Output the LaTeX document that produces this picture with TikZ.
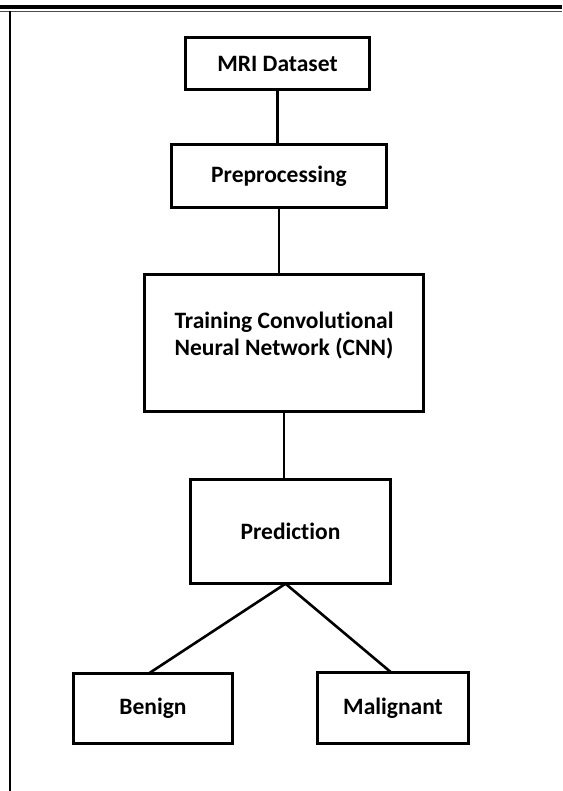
\documentclass[tikz,border=0pt]{standalone}
\usepackage{fontspec}
\setmainfont{Carlito}[Ligatures=NoCommon]
\usetikzlibrary{positioning}

\begin{document}
\begin{tikzpicture}[x=1pt,y=-1pt,every node/.style={shape=rectangle,draw,line width=2.6pt,outer sep=0pt,inner sep=0pt,align=center,font=\fontsize{23.5}{27}\selectfont\bfseries},]
	    \useasboundingbox (0,0) rectangle (562,791);
	    % page rules and frame
		    \draw[line width=4pt] (0,7) -- (562,7);
		    \draw[line width=1.5pt,black!70] (0,11.5) -- (562,11.5);
		    \draw[line width=2pt] (10,11.5) -- (10,791);
	    % create the nodes
		    \node[minimum width=184.4pt,minimum height=52.4pt] (mri) at (277.5,63.5) {MRI Dataset};
		    \node[minimum width=215.4pt,minimum height=63.4pt] (prep)[below=54.6pt of mri,xshift=1.5pt] {Preprocessing};
		    \node[minimum width=279.4pt,minimum height=137.4pt] (train)[below=66.6pt of prep,xshift=5pt] {Training Convolutional\\Neural Network (CNN)\\[-8pt]};
		    \node[minimum width=200.4pt,minimum height=104.4pt] (pred)[below=67.6pt of train,xshift=6.5pt] {Prediction};
		    \node[minimum width=159.4pt,minimum height=70.4pt] (benign)[below=89.6pt of pred,xshift=-137.5pt] {Benign};
		    \node[minimum width=151.4pt,minimum height=71.4pt] (malig)[below=88.6pt of pred,xshift=102.5pt] {Malignant};
	    % connect them
		    \coordinate (fork) at ([xshift=-5pt]pred.south);
		    \draw[line width=2.6pt] (mri.south) -- (mri.south |- prep.north);
		    \draw[line width=2.6pt] (prep.south) -- (prep.south |- train.north);
		    \draw[line width=2.6pt] (train.south) -- (train.south |- pred.north);
		    \draw[line width=2.6pt] (fork) -- ([xshift=-4pt]benign.north);
		    \draw[line width=2.6pt] (fork) -- ([xshift=-2pt]malig.north);
		\end{tikzpicture}
\end{document}
